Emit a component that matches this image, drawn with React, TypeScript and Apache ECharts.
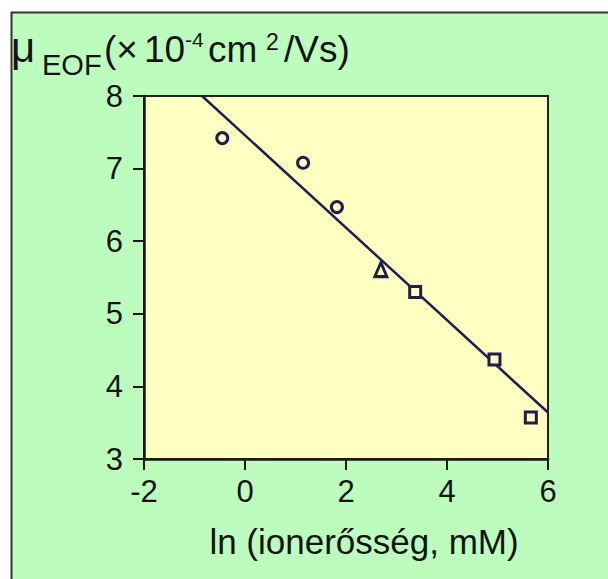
import React, { useEffect, useRef } from "react";
import * as echarts from "echarts";

const xTicks = [-2, 0, 2, 4, 6];
const yTicks = [3, 4, 5, 6, 7, 8];

const circleX = [-0.45, 1.15, 1.82];
const circleY = [7.42, 7.08, 6.47];
const triangleX = [2.69];
const triangleY = [5.61];
const squareX = [3.37, 4.94, 5.66];
const squareY = [5.3, 4.37, 3.57];

const fitX = [-0.85, 6];
const fitY = [8, 3.64];

const xAxisTitle = "ln (ionerősség, mM)";

const NAVY = "#1f1f4f";
const INK = "#141414";
const GREEN = "#bcfcbc";
const YELLOW = "#ffffc2";
const FONT = "'Liberation Sans', Arial, Helvetica, sans-serif";

const zip = (xs: number[], ys: number[]) => xs.map((x, i) => [x, ys[i]]);

export default function App() {
  const ref = useRef<HTMLDivElement>(null);
  useEffect(() => {
    if (!ref.current) return;
    const chart = echarts.init(ref.current, undefined, { renderer: "svg" });
    const hollow = {
      color: YELLOW,
      borderColor: NAVY,
      borderWidth: 3,
      opacity: 1,
    };
    const titleText = (text: string, x: number, y: number, size: number) => ({
      type: "text",
      x,
      y,
      style: {
        text,
        fill: INK,
        font: `${size}px ${FONT}`,
        align: "left",
        verticalAlign: "middle",
      },
    });
    chart.setOption({
      animation: false,
      backgroundColor: GREEN,
      grid: {
        left: 144,
        top: 96,
        right: 60,
        bottom: 120,
        show: true,
        backgroundColor: YELLOW,
        borderColor: "#222",
        borderWidth: 2,
      },
      xAxis: {
        type: "value",
        min: xTicks[0],
        max: xTicks[xTicks.length - 1],
        interval: 2,
        axisLine: { show: true, onZero: false, lineStyle: { color: "#1a1a1a", width: 2.5 } },
        axisTick: { show: true, inside: false, length: 11, lineStyle: { color: "#1a1a1a", width: 2 } },
        splitLine: { show: false },
        axisLabel: { color: INK, fontSize: 31, fontFamily: FONT, margin: 17 },
      },
      yAxis: {
        type: "value",
        min: yTicks[0],
        max: yTicks[yTicks.length - 1],
        interval: 1,
        axisLine: { show: true, onZero: false, lineStyle: { color: "#1a1a1a", width: 2.5 } },
        axisTick: { show: true, inside: false, length: 11, lineStyle: { color: "#1a1a1a", width: 2 } },
        splitLine: { show: false },
        axisLabel: { color: INK, fontSize: 31, fontFamily: FONT, margin: 21 },
      },
      series: [
        {
          type: "line",
          data: zip(fitX, fitY),
          showSymbol: false,
          symbol: "none",
          lineStyle: { color: NAVY, width: 2.5 },
          z: 2,
        },
        {
          type: "scatter",
          data: zip(circleX, circleY),
          symbol: "circle",
          symbolSize: 11,
          itemStyle: hollow,
          z: 3,
        },
        {
          type: "scatter",
          data: zip(triangleX, triangleY),
          symbol: "triangle",
          symbolSize: [12, 14],
          itemStyle: hollow,
          z: 3,
        },
        {
          type: "scatter",
          data: zip(squareX, squareY),
          symbol: "rect",
          symbolSize: 11,
          itemStyle: hollow,
          z: 3,
        },
      ],
      graphic: [
        { type: "rect", shape: { x: 0, y: 0, width: 608, height: 12 }, style: { fill: "#fff" } },
        { type: "rect", shape: { x: 0, y: 0, width: 11, height: 579 }, style: { fill: "#fff" } },
        { type: "line", shape: { x1: 11, y1: 12.5, x2: 608, y2: 12.5 }, style: { stroke: "#333", lineWidth: 2 } },
        { type: "line", shape: { x1: 11.5, y1: 12, x2: 11.5, y2: 579 }, style: { stroke: "#333", lineWidth: 2 } },
        titleText("μ", 11, 47, 42),
        titleText("EOF", 42, 65, 29),
        titleText("(×", 104, 49, 37),
        titleText("10", 144, 49, 37),
        titleText("-4", 185, 39.5, 21),
        titleText("cm", 208, 49, 37),
        titleText("2", 266, 41.5, 23),
        titleText("/Vs)", 284, 49, 37),
        {
          type: "text",
          x: 364,
          y: 541,
          style: {
            text: xAxisTitle,
            fill: INK,
            font: `35px ${FONT}`,
            align: "center",
            verticalAlign: "middle",
          },
        },
      ],
    });
    return () => chart.dispose();
  }, []);
  return (
    <div
      ref={ref}
      style={{ position: "fixed", left: 0, top: 0, width: 608, height: 579 }}
    />
  );
}
